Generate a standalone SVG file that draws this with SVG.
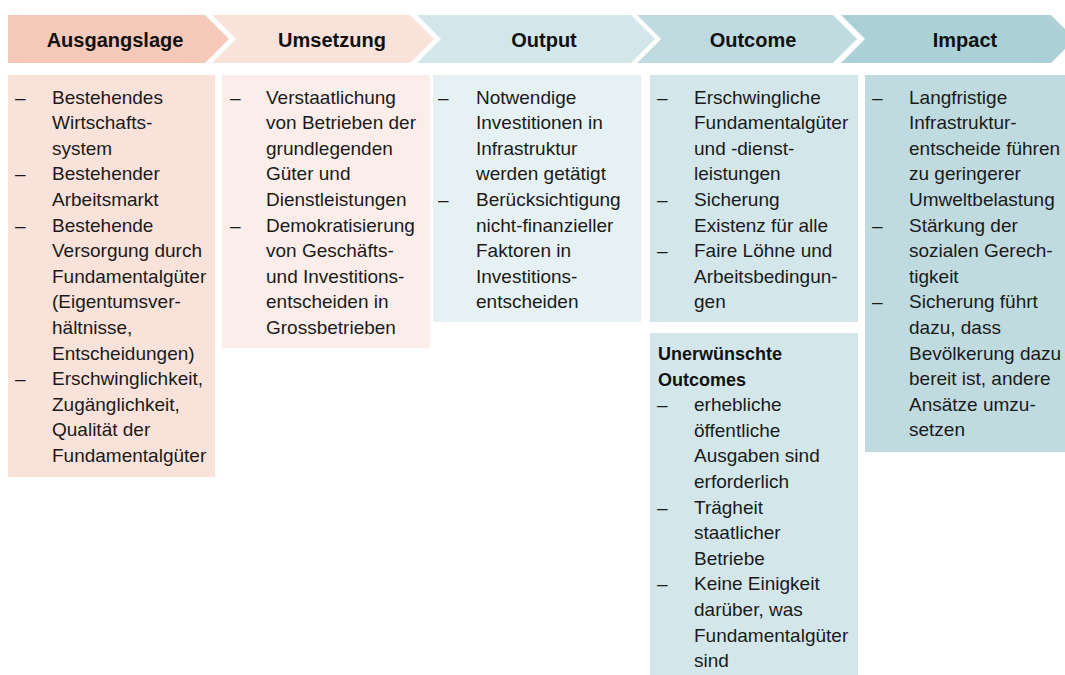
<svg xmlns="http://www.w3.org/2000/svg" width="1065" height="675" viewBox="0 0 1065 675">
<style>
.h{font-family:"Liberation Sans",Arial,sans-serif;font-weight:bold;font-size:20px;fill:#111;text-anchor:middle}
.t{font-family:"Liberation Sans",Arial,sans-serif;font-size:19px;fill:#1a1a1a}
.b{font-family:"Liberation Sans",Arial,sans-serif;font-size:18px;font-weight:bold;fill:#111}
</style>
<rect width="1065" height="675" fill="#fff"/>
<g id="header-ausgangslage">
<polygon points="8,15 205,15 229,39 205,63 8,63" fill="#f5c9b9"/>
<text class="h" x="115" y="47">Ausgangslage</text>
</g>
<g id="header-umsetzung">
<polygon points="212,15 410,15 434,39 410,63 212,63 236,39" fill="#f9e2d9"/>
<text class="h" x="332" y="47">Umsetzung</text>
</g>
<g id="header-output">
<polygon points="417,15 631,15 655,39 631,63 417,63 441,39" fill="#d3e7eb"/>
<text class="h" x="544" y="47">Output</text>
</g>
<g id="header-outcome">
<polygon points="637,15 833,15 857,39 833,63 637,63 661,39" fill="#c0dbe0"/>
<text class="h" x="753" y="47">Outcome</text>
</g>
<g id="header-impact">
<polygon points="841,15 1051,15 1075,39 1051,63 841,63 865,39" fill="#abd0d6"/>
<text class="h" x="965" y="47">Impact</text>
</g>
<g id="connectors"></g>
<g id="box-ausgangslage">
<rect x="8" y="75" width="207" height="402" fill="#f9e2d9"/>
<text class="t" x="15" y="103.5">–</text>
<text class="t" x="52" y="103.5">Bestehendes</text>
<text class="t" x="52" y="129.1">Wirtschafts-</text>
<text class="t" x="52" y="154.7">system</text>
<text class="t" x="15" y="180.3">–</text>
<text class="t" x="52" y="180.3">Bestehender</text>
<text class="t" x="52" y="205.9">Arbeitsmarkt</text>
<text class="t" x="15" y="231.5">–</text>
<text class="t" x="52" y="231.5">Bestehende</text>
<text class="t" x="52" y="257.1">Versorgung durch</text>
<text class="t" x="52" y="282.7">Fundamentalgüter</text>
<text class="t" x="52" y="308.3">(Eigentumsver-</text>
<text class="t" x="52" y="333.9">hältnisse,</text>
<text class="t" x="52" y="359.5">Entscheidungen)</text>
<text class="t" x="15" y="385.1">–</text>
<text class="t" x="52" y="385.1">Erschwinglichkeit,</text>
<text class="t" x="52" y="410.7">Zugänglichkeit,</text>
<text class="t" x="52" y="436.3">Qualität der</text>
<text class="t" x="52" y="461.9">Fundamentalgüter</text>
</g>
<g id="box-umsetzung">
<rect x="222" y="75" width="208" height="273" fill="#fbeeea"/>
<text class="t" x="230" y="103.5">–</text>
<text class="t" x="266" y="103.5">Verstaatlichung</text>
<text class="t" x="266" y="129.1">von Betrieben der</text>
<text class="t" x="266" y="154.7">grundlegenden</text>
<text class="t" x="266" y="180.3">Güter und</text>
<text class="t" x="266" y="205.9">Dienstleistungen</text>
<text class="t" x="230" y="231.5">–</text>
<text class="t" x="266" y="231.5">Demokratisierung</text>
<text class="t" x="266" y="257.1">von Geschäfts-</text>
<text class="t" x="266" y="282.7">und Investitions-</text>
<text class="t" x="266" y="308.3">entscheiden in</text>
<text class="t" x="266" y="333.9">Grossbetrieben</text>
</g>
<g id="box-output">
<rect x="433" y="75" width="208" height="247" fill="#e6f1f3"/>
<text class="t" x="438" y="103.5">–</text>
<text class="t" x="476" y="103.5">Notwendige</text>
<text class="t" x="476" y="129.1">Investitionen in</text>
<text class="t" x="476" y="154.7">Infrastruktur</text>
<text class="t" x="476" y="180.3">werden getätigt</text>
<text class="t" x="438" y="205.9">–</text>
<text class="t" x="476" y="205.9">Berücksichtigung</text>
<text class="t" x="476" y="231.5">nicht-finanzieller</text>
<text class="t" x="476" y="257.1">Faktoren in</text>
<text class="t" x="476" y="282.7">Investitions-</text>
<text class="t" x="476" y="308.3">entscheiden</text>
</g>
<g id="box-outcome">
<rect x="650" y="75" width="208" height="247" fill="#d3e7eb"/>
<text class="t" x="657" y="103.5">–</text>
<text class="t" x="694" y="103.5">Erschwingliche</text>
<text class="t" x="694" y="129.1">Fundamentalgüter</text>
<text class="t" x="694" y="154.7">und -dienst-</text>
<text class="t" x="694" y="180.3">leistungen</text>
<text class="t" x="657" y="205.9">–</text>
<text class="t" x="694" y="205.9">Sicherung</text>
<text class="t" x="694" y="231.5">Existenz für alle</text>
<text class="t" x="657" y="257.1">–</text>
<text class="t" x="694" y="257.1">Faire Löhne und</text>
<text class="t" x="694" y="282.7">Arbeitsbedingun-</text>
<text class="t" x="694" y="308.3">gen</text>
</g>
<g id="box-unerwuenschte-outcomes">
<rect x="650" y="333" width="208" height="342" fill="#d3e7eb"/>
<text class="b" x="658" y="360">Unerwünschte</text>
<text class="b" x="658" y="385.6">Outcomes</text>
<text class="t" x="657" y="411.2">–</text>
<text class="t" x="694" y="411.2">erhebliche</text>
<text class="t" x="694" y="436.8">öffentliche</text>
<text class="t" x="694" y="462.4">Ausgaben sind</text>
<text class="t" x="694" y="488">erforderlich</text>
<text class="t" x="657" y="513.6">–</text>
<text class="t" x="694" y="513.6">Trägheit</text>
<text class="t" x="694" y="539.2">staatlicher</text>
<text class="t" x="694" y="564.8">Betriebe</text>
<text class="t" x="657" y="590.4">–</text>
<text class="t" x="694" y="590.4">Keine Einigkeit</text>
<text class="t" x="694" y="616">darüber, was</text>
<text class="t" x="694" y="641.6">Fundamentalgüter</text>
<text class="t" x="694" y="667.2">sind</text>
</g>
<g id="box-impact">
<rect x="865" y="75" width="200" height="377" fill="#c0dbe0"/>
<text class="t" x="872" y="103.5">–</text>
<text class="t" x="909" y="103.5">Langfristige</text>
<text class="t" x="909" y="129.1">Infrastruktur-</text>
<text class="t" x="909" y="154.7">entscheide führen</text>
<text class="t" x="909" y="180.3">zu geringerer</text>
<text class="t" x="909" y="205.9">Umweltbelastung</text>
<text class="t" x="872" y="231.5">–</text>
<text class="t" x="909" y="231.5">Stärkung der</text>
<text class="t" x="909" y="257.1">sozialen Gerech-</text>
<text class="t" x="909" y="282.7">tigkeit</text>
<text class="t" x="872" y="308.3">–</text>
<text class="t" x="909" y="308.3">Sicherung führt</text>
<text class="t" x="909" y="333.9">dazu, dass</text>
<text class="t" x="909" y="359.5">Bevölkerung dazu</text>
<text class="t" x="909" y="385.1">bereit ist, andere</text>
<text class="t" x="909" y="410.7">Ansätze umzu-</text>
<text class="t" x="909" y="436.3">setzen</text>
</g>
</svg>
